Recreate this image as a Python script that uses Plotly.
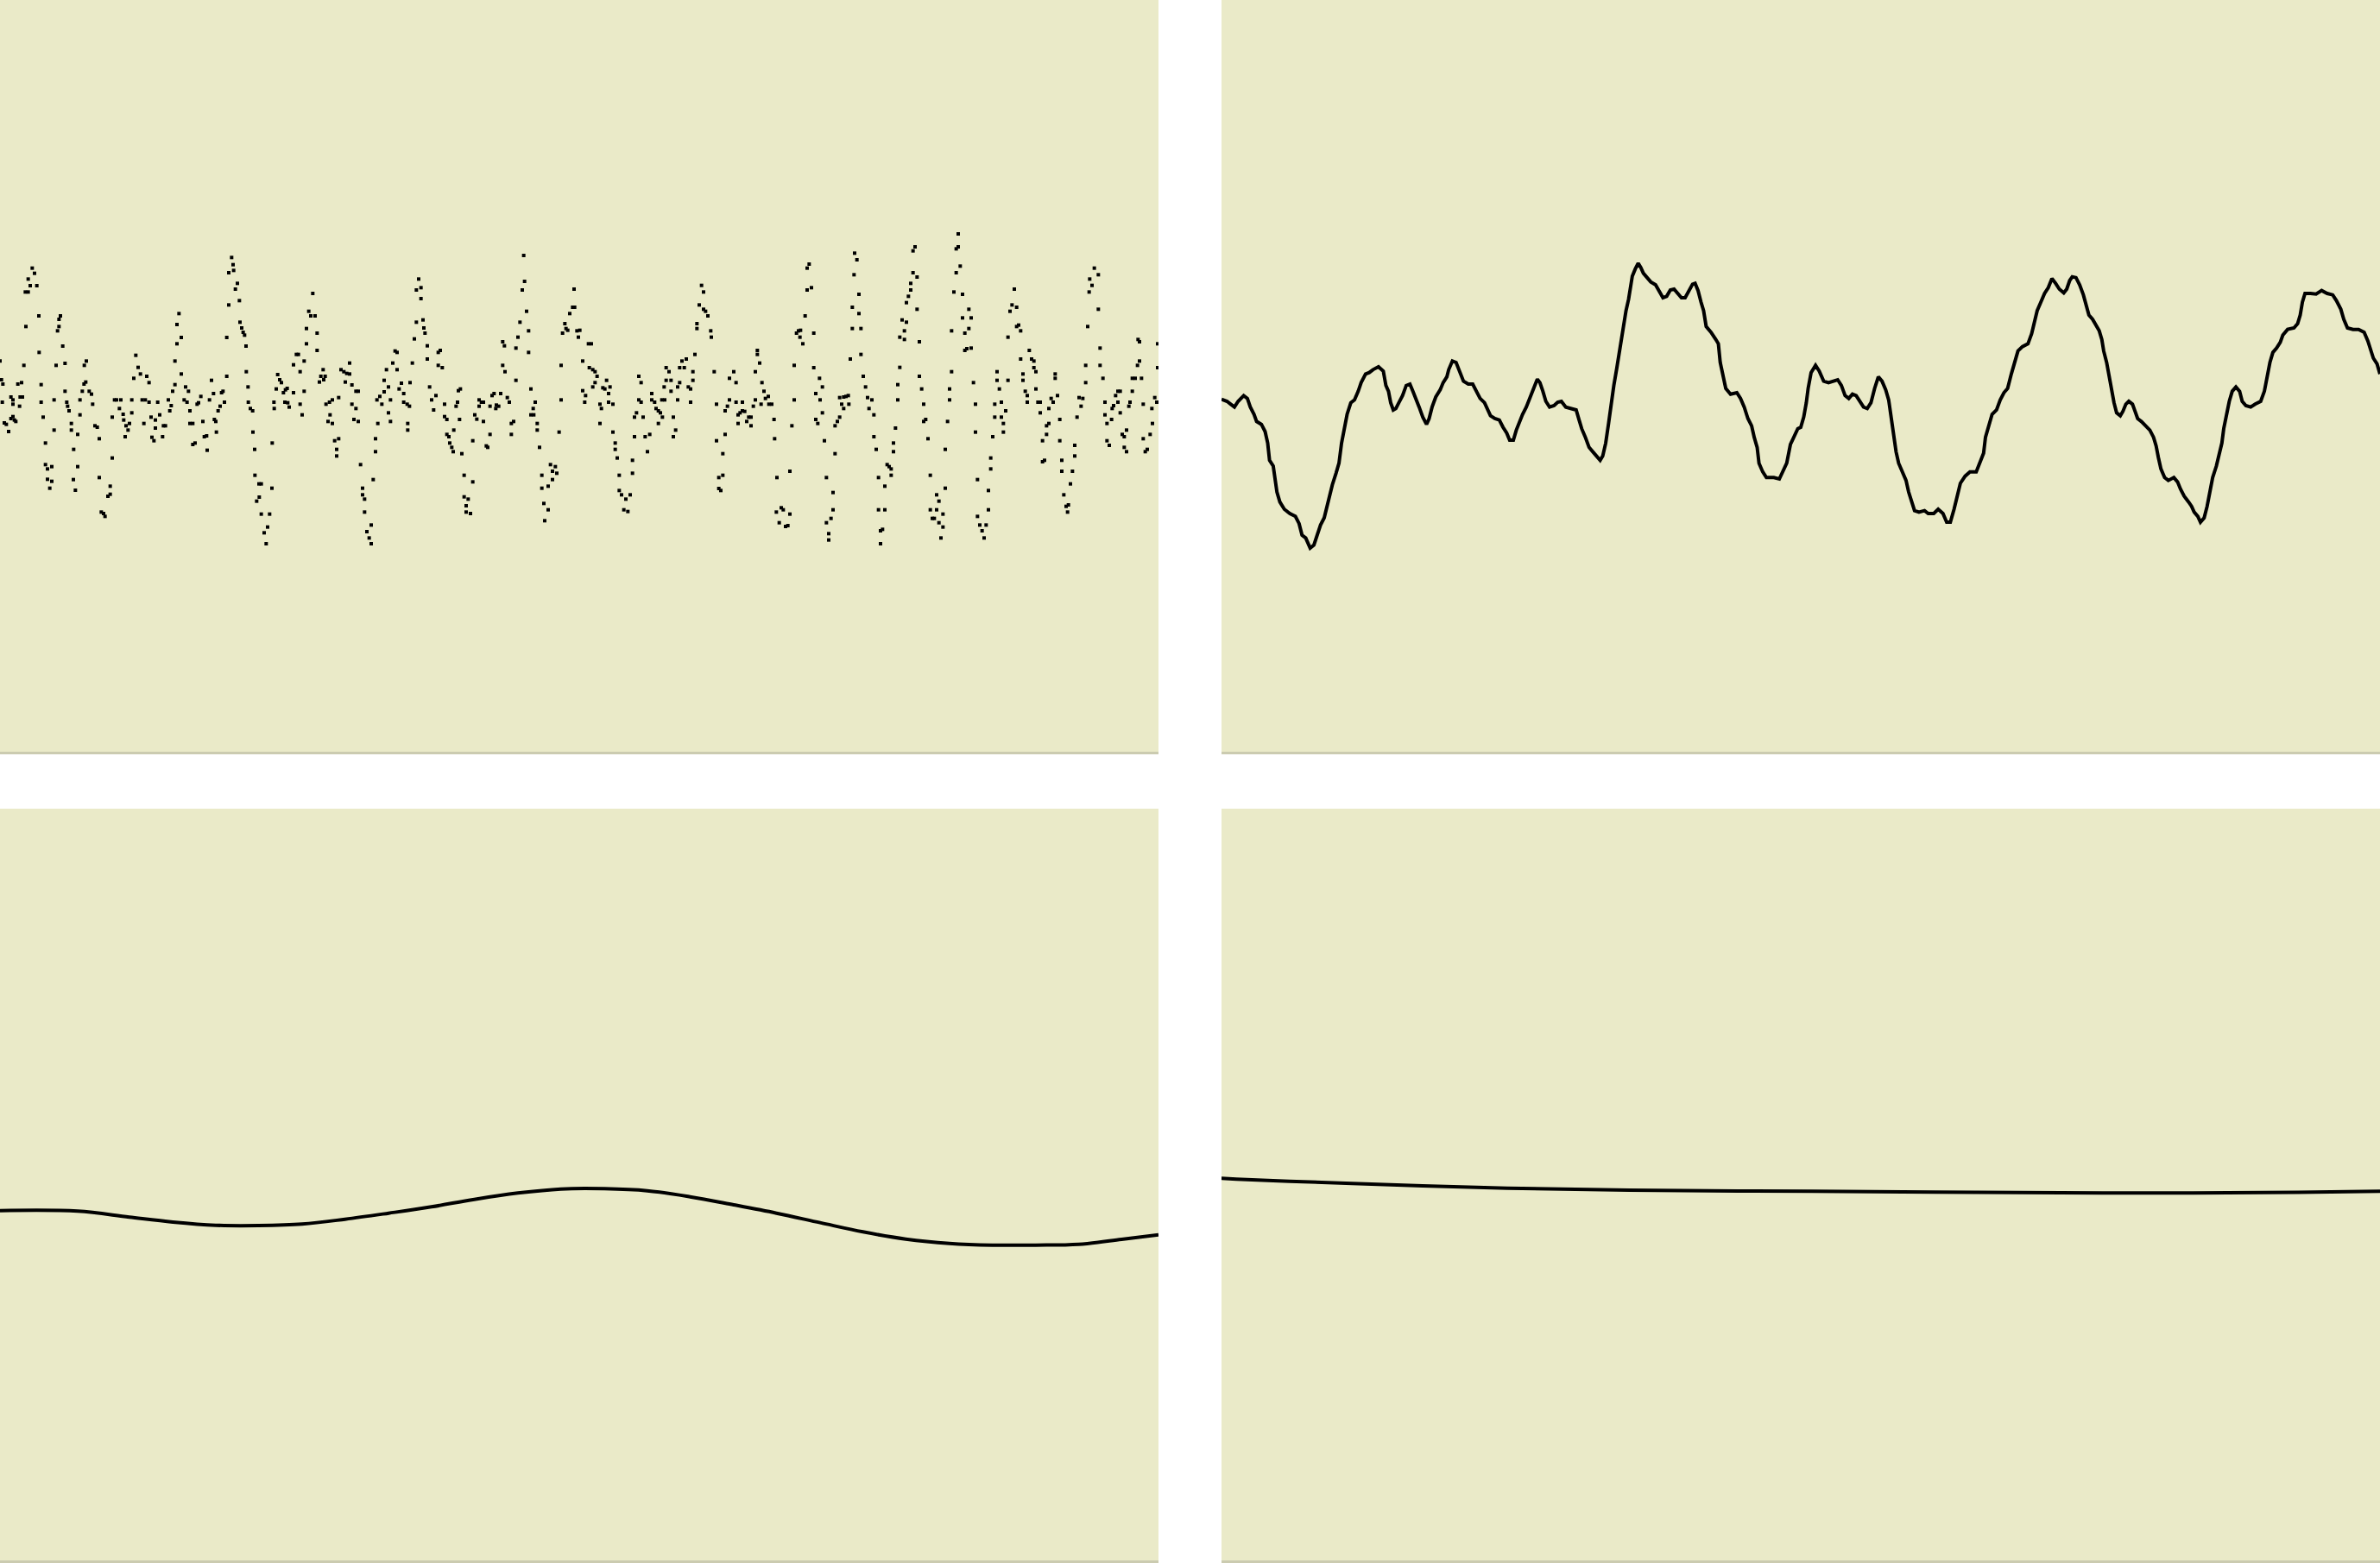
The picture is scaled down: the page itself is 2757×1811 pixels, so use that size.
import plotly.graph_objects as go

# ---------------- data (arbitrary units: t = sample position, v = amplitude) ----------------
# Panel 1 (top-left): high-frequency detail, scattered points
tl_seg1 = [(0,52),(5,-13),(10,-28),(8,-91),(15,-163),(22,-168),(30,-193),(38,-73),(45,-83),(45,-98),
 (50,-153),(45,-141),(38,-148),(55,-158),(62,-28),(75,-23),(70,-73),(78,-73),(68,-105),(83,37),(90,172),
 (88,292),(98,292),(98,337),(105,314),(112,375),(120,357),(128,314),(135,209),(136,82),(143,-30),(143,-91),
 (150,-143),(158,-233),(158,-308),(165,-323),(180,-315),(165,-359),(180,-366),(173,-390),(188,-83),(188,-188),
 (195,37),(200,157),(205,172),(205,197),(210,209),(218,104),(226,44),(226,-53),(232,-91),(235,-105),(240,-121),
 (248,-165),(248,-188),(256,-255),(255,-360),(262,-397),(270,-203),(270,-315),(278,-135),(278,-83),(286,-53),
 (292,-28),(298,-21),(293,37),(300,52),(310,-53),(318,-63),(322,-98),(330,-173),(338,-178),(345,-218),
 (345,-353),(352,-473),(360,-478),(365,-488),(375,-418),(383,-383),(383,-411),(390,-285),(390,-143),(398,-83),
 (405,-83),(415,-113),(420,-83),(428,-133),(430,-153),(438,-173),(445,-188),(435,-211),(450,-165),(458,-128),
 (458,-83),(465,-8),(472,72),(480,30),(488,7),(494,-83),(500,-165),(505,-83),(510,-1),(518,-23),(518,-91),
 (525,-143),(528,-213),(535,-225),(540,-153),(540,-181),(548,-91),(555,-135),(565,-211),(568,-173),(575,-173),
 (585,-83),(590,-121),(595,-103),(600,-53),(608,-30),(608,52),(615,112),(615,179),(622,217),(630,134),(630,7),
 (640,-83),(645,-38),(650,-91),(655,-53),(660,-121),(660,-165),(670,-165),(670,-238),(678,-233),(685,-98),
 (690,-93),(698,-71),(705,-158),(710,-211),(718,-208),(720,-258),(728,-83),(735,-15),(742,-61),(745,-151),
 (750,-158),(752,-195),(758,-121),(765,-105),(770,-58),(775,-53),(780,-91),(788,-1),(788,134),(795,247),
 (795,359),(805,412),(810,387),(812,367),(818,302),(825,322),(832,262),(834,187),(840,167),(845,152),(850,142),
 (855,104),(856,15),(862,-38),(863,-91),(870,-113),(878,-121),(879,-195),(885,-255),(886,-345),(900,-375),
 (908,-375),(901,-421),(892,-435),(908,-480),(937,-480),(930,-525),(918,-545),(925,-583),(945,-390),(946,-233),
 (952,-91),(953,-113),(960,-45),(965,5),(972,-13),(978,-23),(985,-58),(992,-48),(998,-43),(990,-91),(1000,-93),
 (1005,-108)]
tl_seg2 = [(1020,39),(1020,-58),(1030,75),(1037,75),(1043,15),(1043,-98),(1050,-135),(1057,52),(1057,-53),
 (1065,112),(1065,165),(1073,225),(1080,209),(1087,287),(1095,209),(1102,149),(1102,89),(1110,-21),(1115,-1),
 (1123,22),(1130,-1),(1125,-13),(1133,-98),(1145,-91),(1155,-83),(1140,-158),(1147,-135),(1155,-165),(1163,-225),
 (1177,-218),(1170,-255),(1170,-278),(1177,-75),(1185,22),(1195,15),(1200,-21),(1205,9),(1215,45),(1215,7),
 (1223,-31),(1223,-98),(1237,-113),(1230,-151),(1245,-158),(1237,-53),(1245,-53),(1253,-308),(1260,-390),
 (1260,-413),(1267,-428),(1267,-473),(1275,-541),(1283,-563),(1290,-518),(1290,-583),(1297,-360),(1305,-263),
 (1305,-218),(1313,-165),(1310,-83),(1320,-71),(1327,-98),(1335,-55),(1335,-15),(1343,22),(1350,-38),(1350,-128),
 (1357,-83),(1357,-158),(1365,45),(1373,87),(1380,82),(1380,22),(1387,-45),(1395,-25),(1403,-61),(1403,-91),
 (1415,-98),(1423,-105),(1417,-165),(1417,-188),(1425,-23),(1433,45),(1440,129),(1447,187),(1447,299),(1455,337),
 (1463,307),(1463,269),(1470,195),(1473,167),(1477,149),(1485,105),(1485,59),(1493,-38),(1500,-83),(1507,-118),
 (1515,-68),(1523,82),(1530,89),(1523,37),(1537,29),(1545,-98),(1545,-141),(1553,-151),(1553,-203),(1560,-211),
 (1563,-233),(1570,-248),(1575,-263),(1577,-188),(1585,-105),(1590,-91),(1593,-51),(1600,-45),(1597,-151),
 (1605,-270),(1613,-345),(1613,-420),(1627,-428),(1620,-451),(1620,-473),(1635,-478),(1643,-368),(1643,-225),
 (1650,-135),(1657,-150),(1665,-83),(1673,-91),(1665,-105),(1680,-91),(1680,-158),(1690,-243),(1695,-248),
 (1703,-203),(1703,-105),(1710,-68),(1717,-61),(1723,-113),(1725,-101),(1733,-105),(1740,-61),(1747,119),
 (1753,105),(1747,37),(1755,15),(1763,-75),(1770,-91),(1777,-203),(1777,-165),(1785,-158),(1793,-15),(1793,97),
 (1800,135),(1807,187),(1815,299),(1823,329),(1820,419),(1830,225),(1837,157),(1837,82),(1845,-45),(1853,-113),
 (1860,-91),(1845,-135),(1855,-135),(1867,-165),(1867,-188),(1875,-248),(1883,-345),(1883,-390),(1890,-443),
 (1893,-503),(1905,-465),(1905,-383),(1913,-308),(1920,-360),(1920,-331),(1930,-315),(1935,-338),(1943,-195),
 (1950,-83),(1950,37),(1955,149),(1963,182),(1967,165),(1973,159),(1980,217),(1990,239),(1997,239),(1995,302),
 (2005,157),(2010,135),(2015,159)]
tl_seg3 = [(2025,52),(2025,-51),(2035,-68),(2032,-91),(2045,112),(2055,112),(2048,29),(2060,22),(2068,15),
 (2075,-1),(2068,-23),(2060,-38),(2085,-98),(2090,-113),(2085,-165),(2095,-41),(2102,-45),(2108,-15),(2115,-61),
 (2120,-38),(2115,-91),(2130,-98),(2130,-195),(2138,-233),(2138,-255),(2145,-285),(2152,-345),(2152,-398),
 (2160,-413),(2175,-428),(2190,-413),(2168,-465),(2182,-471),(2198,-293),(2198,-338),(2205,-211),(2205,-143),
 (2212,-128),(2220,-1),(2228,-23),(2220,-83),(2228,-91),(2235,-143),(2242,-211),(2250,-263),(2258,-203),
 (2265,-61),(2265,-83),(2275,-91),(2280,-113),(2288,-121),(2295,-128),(2288,-165),(2302,-143),(2300,-83),
 (2310,-83),(2308,-38),(2315,29),(2325,15),(2315,-15),(2332,-15),(2332,-53),(2340,-143),(2340,-211),(2348,-188),
 (2355,-83),(2355,-38),(2362,-23),(2362,29),(2370,52),(2378,29),(2385,59),(2392,-38),(2400,-45),(2400,-91),
 (2408,-15),(2408,15),(2415,75),(2422,165),(2422,182),(2430,247),(2438,315),(2445,292),(2445,232),(2452,225),
 (2460,209),(2470,157),(2472,135),(2482,15),(2490,-98),(2490,-225),(2498,-353),(2498,-391),(2505,-398),
 (2512,-345),(2512,-270),(2520,-203),(2520,-121),(2528,-105),(2535,-83),(2535,-8),(2550,15),(2558,-23),
 (2558,-91),(2565,-135),(2565,-165),(2572,-128),(2580,-91),(2580,-121),(2588,-123),(2595,-158),(2602,-143),
 (2610,-173),(2610,-143),(2618,-105),(2625,-83),(2625,15),(2632,89),(2632,75),(2640,45),(2648,-23),(2655,-53),
 (2645,-98),(2660,-78),(2670,-71),(2672,-98),(2682,-98),(2690,-151),(2692,-218),(2700,-353),(2698,-473),
 (2708,-510),(2715,-458),(2722,-465),(2730,-523),(2738,-520),(2745,-480),(2745,-331),(2752,-173),(2760,-83),
 (2760,37),(2768,149),(2775,157),(2780,135),(2790,112),(2782,159),(2798,209),(2805,299),(2820,307),(2805,375),
 (2812,389),(2828,149),(2828,29),(2835,-61),(2848,-8),(2850,-83),(2858,-38),(2858,-128),(2835,-151),(2842,-165),
 (2865,-225),(2872,-353),(2880,-548),(2880,-570),(2872,-510),(2888,-495),(2895,-465),(2895,-405),(2902,-270),
 (2902,-173),(2910,-158),(2918,-143),(2918,-75),(2925,-98),(2932,-73),(2940,-71),(2948,-68),(2932,-113),
 (2950,-98),(2955,59),(2962,165),(2962,239),(2968,352),(2970,427),(2978,404),(2985,284),(2985,217),(2992,165),
 (2992,75),(3000,-1),(3008,-38),(3015,-75),(3020,-113)]
tl_seg4 = [(3030,-83),(3037,-135),(3037,-211),(3045,-255),(3053,-353),(3053,-465),(3060,-538),(3060,-583),
 (3067,-533),(3075,-383),(3075,-465),(3083,-308),(3090,-315),(3097,-323),(3097,-345),(3105,-263),(3105,-233),
 (3112,-181),(3120,-83),(3120,-30),(3127,30),(3127,135),(3135,195),(3143,127),(3143,157),(3150,187),(3150,255),
 (3157,277),(3165,299),(3165,322),(3173,359),(3173,435),(3180,449),(3187,344),(3187,232),(3195,119),(3195,-1),
 (3203,-45),(3210,-98),(3210,-158),(3217,-151),(3225,-218),(3233,-345),(3233,-465),(3240,-495),(3247,-495),
 (3255,-413),(3255,-465),(3263,-435),(3263,-510),(3270,-563),(3277,-480),(3277,-525),(3285,-390),(3285,-255),
 (3293,-158),(3300,-83),(3300,-45),(3307,15),(3307,157),(3315,292),(3323,359),(3323,442),(3330,449),(3330,494),
 (3337,382),(3345,284),(3345,202),(3353,149),(3353,89),(3360,95),(3367,165),(3367,232),(3375,202),(3375,97),
 (3383,-23),(3390,-98),(3390,-195),(3397,-360),(3397,-488),(3405,-518),(3413,-538),(3420,-563),(3427,-518),
 (3435,-465),(3435,-398),(3443,-323),(3443,-285),(3450,-211),(3457,-98),(3457,-143),(3465,-15),(3465,15),
 (3473,-45),(3480,-91),(3480,-143),(3487,-165),(3487,-195),(3495,-121),(3503,-15),(3503,135),(3510,225),
 (3517,247),(3525,302),(3533,239),(3533,172),(3540,177),(3547,157),(3547,59),(3555,7),(3555,-15),(3563,-53),
 (3570,-68),(3570,-91),(3577,89),(3585,59),(3593,52),(3593,29),(3600,15),(3600,-45),(3607,-91),(3615,-91),
 (3615,-128),(3623,-225),(3623,-298),(3630,-293),(3637,-203),(3637,-173),(3645,-165),(3645,-113),(3653,-78),
 (3660,-91),(3667,7),(3667,-8),(3675,-68),(3683,-151),(3683,-225),(3690,-293),(3690,-331),(3697,-413),
 (3705,-453),(3710,-473),(3713,-448),(3720,-375),(3727,-331),(3735,-278),(3735,-241),(3743,-143),(3750,-75),
 (3757,-105),(3763,-78),(3773,-23),(3773,37),(3780,172),(3785,292),(3795,315),(3787,337),(3803,375),(3817,352),
 (3817,232),(3823,97),(3823,37),(3833,-8),(3840,-91),(3840,-135),(3847,-165),(3847,-225),(3855,-241),
 (3863,-151),(3865,-113),(3870,-103),(3877,-68),(3885,-53),(3885,-91),(3893,-53),(3893,-128),(3900,-203),
 (3907,-211),(3915,-188),(3907,-248),(3915,-263),(3923,-105),(3927,-91),(3935,-53),(3935,-8),(3945,-8),
 (3953,37),(3960,52),(3955,127),(3960,119),(3967,-8),(3973,-98),(3973,-218),(3980,-263),(3987,-255),
 (3997,-203),(4005,-165),(4003,-113),(4013,-75),(4020,-91),(4023,29),(4023,112)]

# Panel 2 (top-right): first smoothing level
tr_t = [0,15,25,35,45,60,70,78,88,95,108,118,125,130,140,145,150,158,170,185,200,210,218,228,240,250,260,268,
 278,285,292,300,310,318,325,332,340,350,360,370,378,390,400,410,425,438,445,452,458,465,472,480,490,500,510,
 518,525,535,545,555,562,570,580,592,600,610,615,625,635,645,655,668,680,690,700,712,720,728,740,752,762,772,
 780,790,798,808,815,825,832,840,848,855,862,870,878,888,900,910,920,932,945,960,968,975,985,995,1005,1015,
 1025,1032,1040,1048,1055,1062,1070,1076,1082,1090,1095,1102,1108,1112,1120,1128,1135,1142,1152,1162,1175,
 1185,1195,1205,1215,1225,1235,1245,1255,1265,1275,1282,1290,1298,1305,1312,1325,1338,1345,1350,1358,1365,
 1378,1395,1405,1415,1425,1435,1442,1450,1455,1465,1475,1495,1510,1520,1530,1540,1550,1560,
 1568,1576,1583,1588,1596,1608,1618,1630,1643,1658,1668,1678,1688,1698,1708,1718,1728,1738,1748,1758,1768,
 1778,1788,1798,1806,1813,1820,1826,1833,1843,1853,1860,1868,1876,1888,1903,1913,1928,1940,1953,1963,1973,
 1983,1993,2000,2013,2026,2043,2053,2063,2068,2078,2086,2098,2108,2118,2128,2138,2148,2156,2168,2183,2193,
 2200,2208,2218,2228,2238,2248,2258,2268,2280,2288,2296,2303,2313,2323,2333,2340,2348,2358,2368,2376,2383,
 2388,2396,2403,2410,2416,2423,2433,2440,2448,2456,2466,2473,2480,2490,2503,2513,2523,2530,2536,2543,2553,
 2563,2578,2588,2596,2606,2618,2626,2633,2643,2650,2660,2668,2676,2683,2693,2700,2708,2713,2720,2728,2736,
 2746,2756,2763,2773,2786,2798,2813,2823,2830,2838,2846,2856,2866,2873,2886,2903,2913,2920,2926,2933,2948,
 2963,2978,2993,3008,3018,3030,3038,3048,3063,3078,3093,3103,3113,3118,3128,3136]
tr_v = [-81,-88,-98,-108,-88,-68,-78,-108,-133,-158,-168,-193,-233,-293,-313,-363,-403,-438,-463,-478,-488,
 -513,-553,-563,-598,-588,-553,-518,-493,-453,-413,-378,-338,-303,-233,-183,-133,-93,-83,-53,-23,7,12,22,32,
 17,-33,-53,-93,-118,-113,-93,-68,-33,-28,-53,-73,-108,-143,-168,-148,-108,-73,-48,-23,-3,22,52,47,12,-18,
 -28,-28,-53,-78,-93,-118,-138,-148,-153,-178,-198,-223,-223,-188,-153,-133,-108,-83,-58,-33,-11,-23,-53,
 -88,-108,-103,-91,-88,-108,-113,-118,-153,-183,-213,-248,-263,-278,-293,-278,-233,-163,-93,-33,27,77,122,
 177,227,267,317,347,372,392,377,357,342,327,317,297,272,277,299,302,287,272,272,297,319,322,297,257,227,
 172,152,127,112,47,-3,-43,-63,-58,-78,-108,-148,-173,-213,-248,-303,-333,-353,-353,-358,-333,-303,-238,
 -213,-183,
 -178,-143,-93,-43,12,37,17,-18,-23,-18,-13,-33,-68,-78,-63,-68,-88,-108,-113,-93,-43,-3,-18,-48,-83,-143,
 -213,-263,-303,-333,-363,-403,-433,-468,-473,-468,-478,-478,-463,-478,-508,-508,-463,-413,-373,-348,-333,
 -333,-303,-268,-213,-173,-133,-118,-83,-58,-43,7,47,87,102,112,147,182,227,257,287,307,339,322,302,289,302,
 332,345,342,317,282,252,212,197,172,157,127,87,47,-3,-43,-93,-128,-138,-123,-98,-88,-98,-123,-148,-158,
 -173,-188,-213,-243,-283,-323,-353,-363,-353,-368,-393,-418,-438,-453,-473,-488,-508,-493,-453,-403,-353,
 -313,-273,-233,-183,-133,-88,-53,-38,-53,-88,-103,-108,-98,-88,-53,-3,47,82,97,117,142,162,167,182,212,
 257,287,287,285,297,287,282,262,232,197,167,162,162,152,122,87,62,42,7]

# Panel 3 (bottom-left): second smoothing level
bl_t = [0,105,175,234,292,350,409,467,526,584,642,701,759,818,876,934,993,1051,1110,1168,1226,1285,1343,
 1402,1460,1518,1568]
bl_v = [-90,-92,-113,-130,-141,-142,-137,-120,-99,-77,-51,-29,-15,-14,-21,-42,-70,-99,-132,-164,-189,-204,
 -210,-210,-207,-190,-174]

# Panel 4 (bottom-right): trend
br_t = [0,20,92,177,272,387,552,800,1022,1240,1457,1568]
br_v = [22,19.5,12,4,-4,-12,-19,-23,-26.5,-29,-26.5,-23]

# ---------------- figure ----------------
tl_points = tl_seg1 + tl_seg2 + tl_seg3 + tl_seg4
tl_t = [p[0] for p in tl_points]
tl_v = [p[1] for p in tl_points]

BG = "#EAEAC8"
AXLINE = "#CBCBB0"
W, H = 2757, 1811

fig = go.Figure()
fig.add_trace(go.Scatter(x=tl_t, y=tl_v, mode="markers", xaxis="x", yaxis="y",
                         marker=dict(symbol="square", size=4, color="black", line=dict(width=0)),
                         hoverinfo="skip"))
fig.add_trace(go.Scatter(x=tr_t, y=tr_v, mode="lines", xaxis="x2", yaxis="y2",
                         line=dict(color="black", width=4), hoverinfo="skip"))
fig.add_trace(go.Scatter(x=bl_t, y=bl_v, mode="lines", xaxis="x3", yaxis="y3",
                         line=dict(color="black", width=4, shape="spline"), hoverinfo="skip"))
fig.add_trace(go.Scatter(x=br_t, y=br_v, mode="lines", xaxis="x4", yaxis="y4",
                         line=dict(color="black", width=4, shape="spline"), hoverinfo="skip"))

col1 = [0, 1342 / W]
col2 = [1415 / W, 1]
row1 = [1 - 871 / H, 1]
row2 = [3 / H, 1 - 937 / H]

def xax(domain, rng, anchor):
    return dict(domain=domain, range=rng, anchor=anchor, showline=True, linecolor=AXLINE,
                linewidth=3, showticklabels=False, ticks="", showgrid=False, zeroline=False,
                fixedrange=True)

def yax(domain, anchor):
    return dict(domain=domain, range=[-1306, 1307], anchor=anchor, showline=False,
                showticklabels=False, ticks="", showgrid=False, zeroline=False, fixedrange=True)

fig.update_layout(
    width=W, height=H,
    margin=dict(l=0, r=0, t=0, b=0, pad=0),
    paper_bgcolor="white", plot_bgcolor=BG,
    showlegend=False,
    xaxis=xax(col1, [0, 4026], "y"),
    yaxis=yax(row1, "x"),
    xaxis2=xax(col2, [0, 3136], "y2"),
    yaxis2=yax(row1, "x2"),
    xaxis3=xax(col1, [0, 1568], "y3"),
    yaxis3=yax(row2, "x3"),
    xaxis4=xax(col2, [0, 1568], "y4"),
    yaxis4=yax(row2, "x4"),
)

fig.write_html("out.html", config={"displayModeBar": False})
